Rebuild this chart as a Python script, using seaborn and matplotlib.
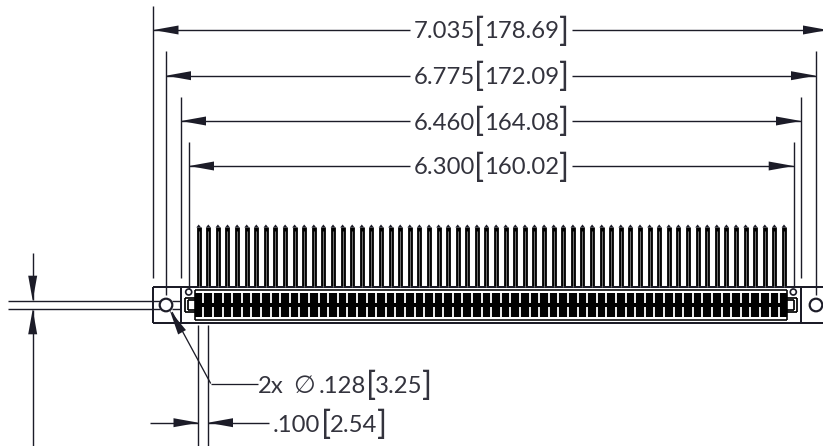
import numpy as np
import pandas as pd
import matplotlib
matplotlib.use('Agg')
import matplotlib.pyplot as plt
import seaborn as sns

# dimension values, top to bottom
inch_labels = ['7.035', '6.775', '6.460', '6.300']
mm_labels = ['178.69', '172.09', '164.08', '160.02']
dim_y = [30, 75.7, 121, 166]
dim_left = [153.5, 166, 181, 189]
dim_right = [828, 816, 801, 793.7]
ext_top = [6, 51, 97, 142]
ext_end = [278, 295, 278, 289]
ext_end_right = [278, 295, 278, 287]

# pin centres along the connector
pin_x = [198.7, 208.3, 217.9, 227.5, 237.1, 246.7, 256.3, 265.9, 275.5, 285.1, 294.6,
         304.2, 313.8, 323.4, 333.0, 342.6, 352.2, 361.8, 371.4, 381.0, 390.6, 400.2,
         409.8, 419.4, 429.0, 438.6, 448.2, 457.7, 467.3, 476.9, 486.5, 496.1, 505.7,
         515.3, 524.9, 534.5, 544.1, 553.7, 563.3, 572.9, 582.5, 592.1, 601.7, 611.3,
         620.8, 630.4, 640.0, 649.6, 659.2, 668.8, 678.4, 688.0, 697.6, 707.2, 716.8,
         726.4, 736.0, 745.6, 755.2, 764.8, 774.4, 784.0]

ink = '#1c1c28'
text_ink = '#33333d'
px = 72 / 100  # one pixel in points

sns.set_theme(style='white')
plt.rcParams['font.family'] = ['Lato', 'DejaVu Sans']

fig, ax = plt.subplots(figsize=(8.23, 4.46), dpi=100)
fig.subplots_adjust(0, 0, 1, 1)


def draw_segments(segs, lw, color=ink, z=3):
    rows = []
    for i, (x0, y0, x1, y1) in enumerate(segs):
        rows.append({'x': x0, 'y': y0, 'seg': i})
        rows.append({'x': x1, 'y': y1, 'seg': i})
    sns.lineplot(data=pd.DataFrame(rows), x='x', y='y', units='seg', estimator=None,
                 sort=False, lw=lw * px, color=color, ax=ax, legend=False,
                 solid_capstyle='butt', zorder=z)


def arrow(tip_x, tip_y, ux, uy, length=25, half=4.5):
    bx, by = tip_x - ux * length, tip_y - uy * length
    ax.fill([tip_x, bx - uy * half, bx + uy * half], [tip_y, by + ux * half, by - ux * half],
            color=ink, lw=0, zorder=5)


def label(x, base, s, size=17.2):
    ax.text(x, base, s, ha='center', va='baseline', fontsize=size, color=text_ink,
            fontweight='normal', zorder=6)


def bracket(x, base, s):
    ax.text(x, base + 2, s, ha='center', va='baseline', fontsize=24, color=text_ink,
            fontweight='normal', zorder=6)


# main dimension lines
segs = []
for y, l, r, t, e, er in zip(dim_y, dim_left, dim_right, ext_top, ext_end, ext_end_right):
    segs += [(l, y, 410, y), (572, y, r, y), (l, t, l, e), (r, t, r, er)]
draw_segments(segs, 1.4)
for y, l, r in zip(dim_y, dim_left, dim_right):
    arrow(l, y, -1, 0)
    arrow(r, y, 1, 0)
for y, a, b in zip(dim_y, inch_labels, mm_labels):
    label(444, y + 8.5, a)
    label(522, y + 8.5, b)
    bracket(479.5, y + 8.5, '[')
    bracket(564, y + 8.5, ']')

# pins
pin_top = 227
plate_top = 287
draw_segments([(x, pin_top, x, plate_top) for x in pin_x], 4.8, 'black')
draw_segments([(x, 231, x, plate_top) for x in pin_x], 1.1, '#6e6e6e', z=4)
for x in pin_x:
    arrow(x, 224.5, 0, -1, length=3, half=2.4)

# plate
draw_segments([(153.5, 287, 823, 287), (153.5, 323, 823, 323), (153.5, 287, 153.5, 323),
               (181, 287, 181, 323), (801, 287, 801, 323)], 2)
for cx, cy, r, w in [(166, 305, 6.3, 2.2), (816, 305, 6.3, 2.2), (188.7, 292, 3, 1.7), (793.3, 292, 3, 1.7)]:
    ax.add_patch(plt.Circle((cx, cy), r, fc='white', ec=ink, lw=w * px, zorder=7))

# connector body
draw_segments([(195, 290, 787, 290), (195, 319.5, 787, 319.5), (195, 290, 195, 319.5),
               (787, 290, 787, 319.5)], 1.6, 'black')
ax.fill_between([195, 787], 293, 317, color='black', lw=0, zorder=4)
gaps = [x + 4.8 for x in pin_x[:-1]]
draw_segments([(x, 293, x, 303) for x in gaps] + [(x, 307, x, 317) for x in gaps], 1.8, 'white', z=5)
draw_segments([(x, 298, x, 312) for x in [185, 797]]
              + [(185, 298, 195, 298), (185, 312, 195, 312), (787, 298, 797, 298), (787, 312, 797, 312),
                 (188, 300, 195, 300), (188, 310, 195, 310), (188, 300, 188, 310),
                 (787, 300, 794, 300), (787, 310, 794, 310), (794, 300, 794, 310)], 1.7, 'black')

# thin gap dimension on the left
draw_segments([(8, 300.7, 160, 300.7), (8, 309.3, 160, 309.3), (172, 300.7, 181, 300.7),
               (172, 309.3, 181, 309.3), (32.7, 253, 32.7, 300), (32.7, 310, 32.7, 446)], 1.4)
arrow(32.7, 300.7, 0, 1)
arrow(32.7, 309.3, 0, -1)

# leader to hole
draw_segments([(172, 312, 210.7, 383.5), (210.7, 383.5, 258, 383.5)], 1.3)
arrow(169.8, 310.5, -0.49, -0.87)
label(270.5, 393, '2x')
ax.text(304.5, 393, '\u2205', ha='center', va='baseline', fontsize=18, color=text_ink,
        family=['DejaVu Sans'], zorder=6)
label(342, 393, '.128')
bracket(371, 393, '[')
label(399, 393, '3.25')
bracket(427, 393, ']')

# .100 dimension
draw_segments([(198.5, 325, 198.5, 446), (208, 325, 208, 446), (150, 422.7, 198.5, 422.7),
               (208, 422.7, 269.5, 422.7)], 1.4)
arrow(198.5, 422.7, 1, 0)
arrow(208, 422.7, -1, 0)
label(296, 432, '.100')
bracket(326, 432, '[')
label(353.5, 432, '2.54')
bracket(382, 432, ']')

ax.set_xlim(0, 823)
ax.set_ylim(446, 0)
ax.set_xlabel('')
ax.set_ylabel('')
ax.axis('off')
fig.savefig('out.png', dpi=100, facecolor='white')
